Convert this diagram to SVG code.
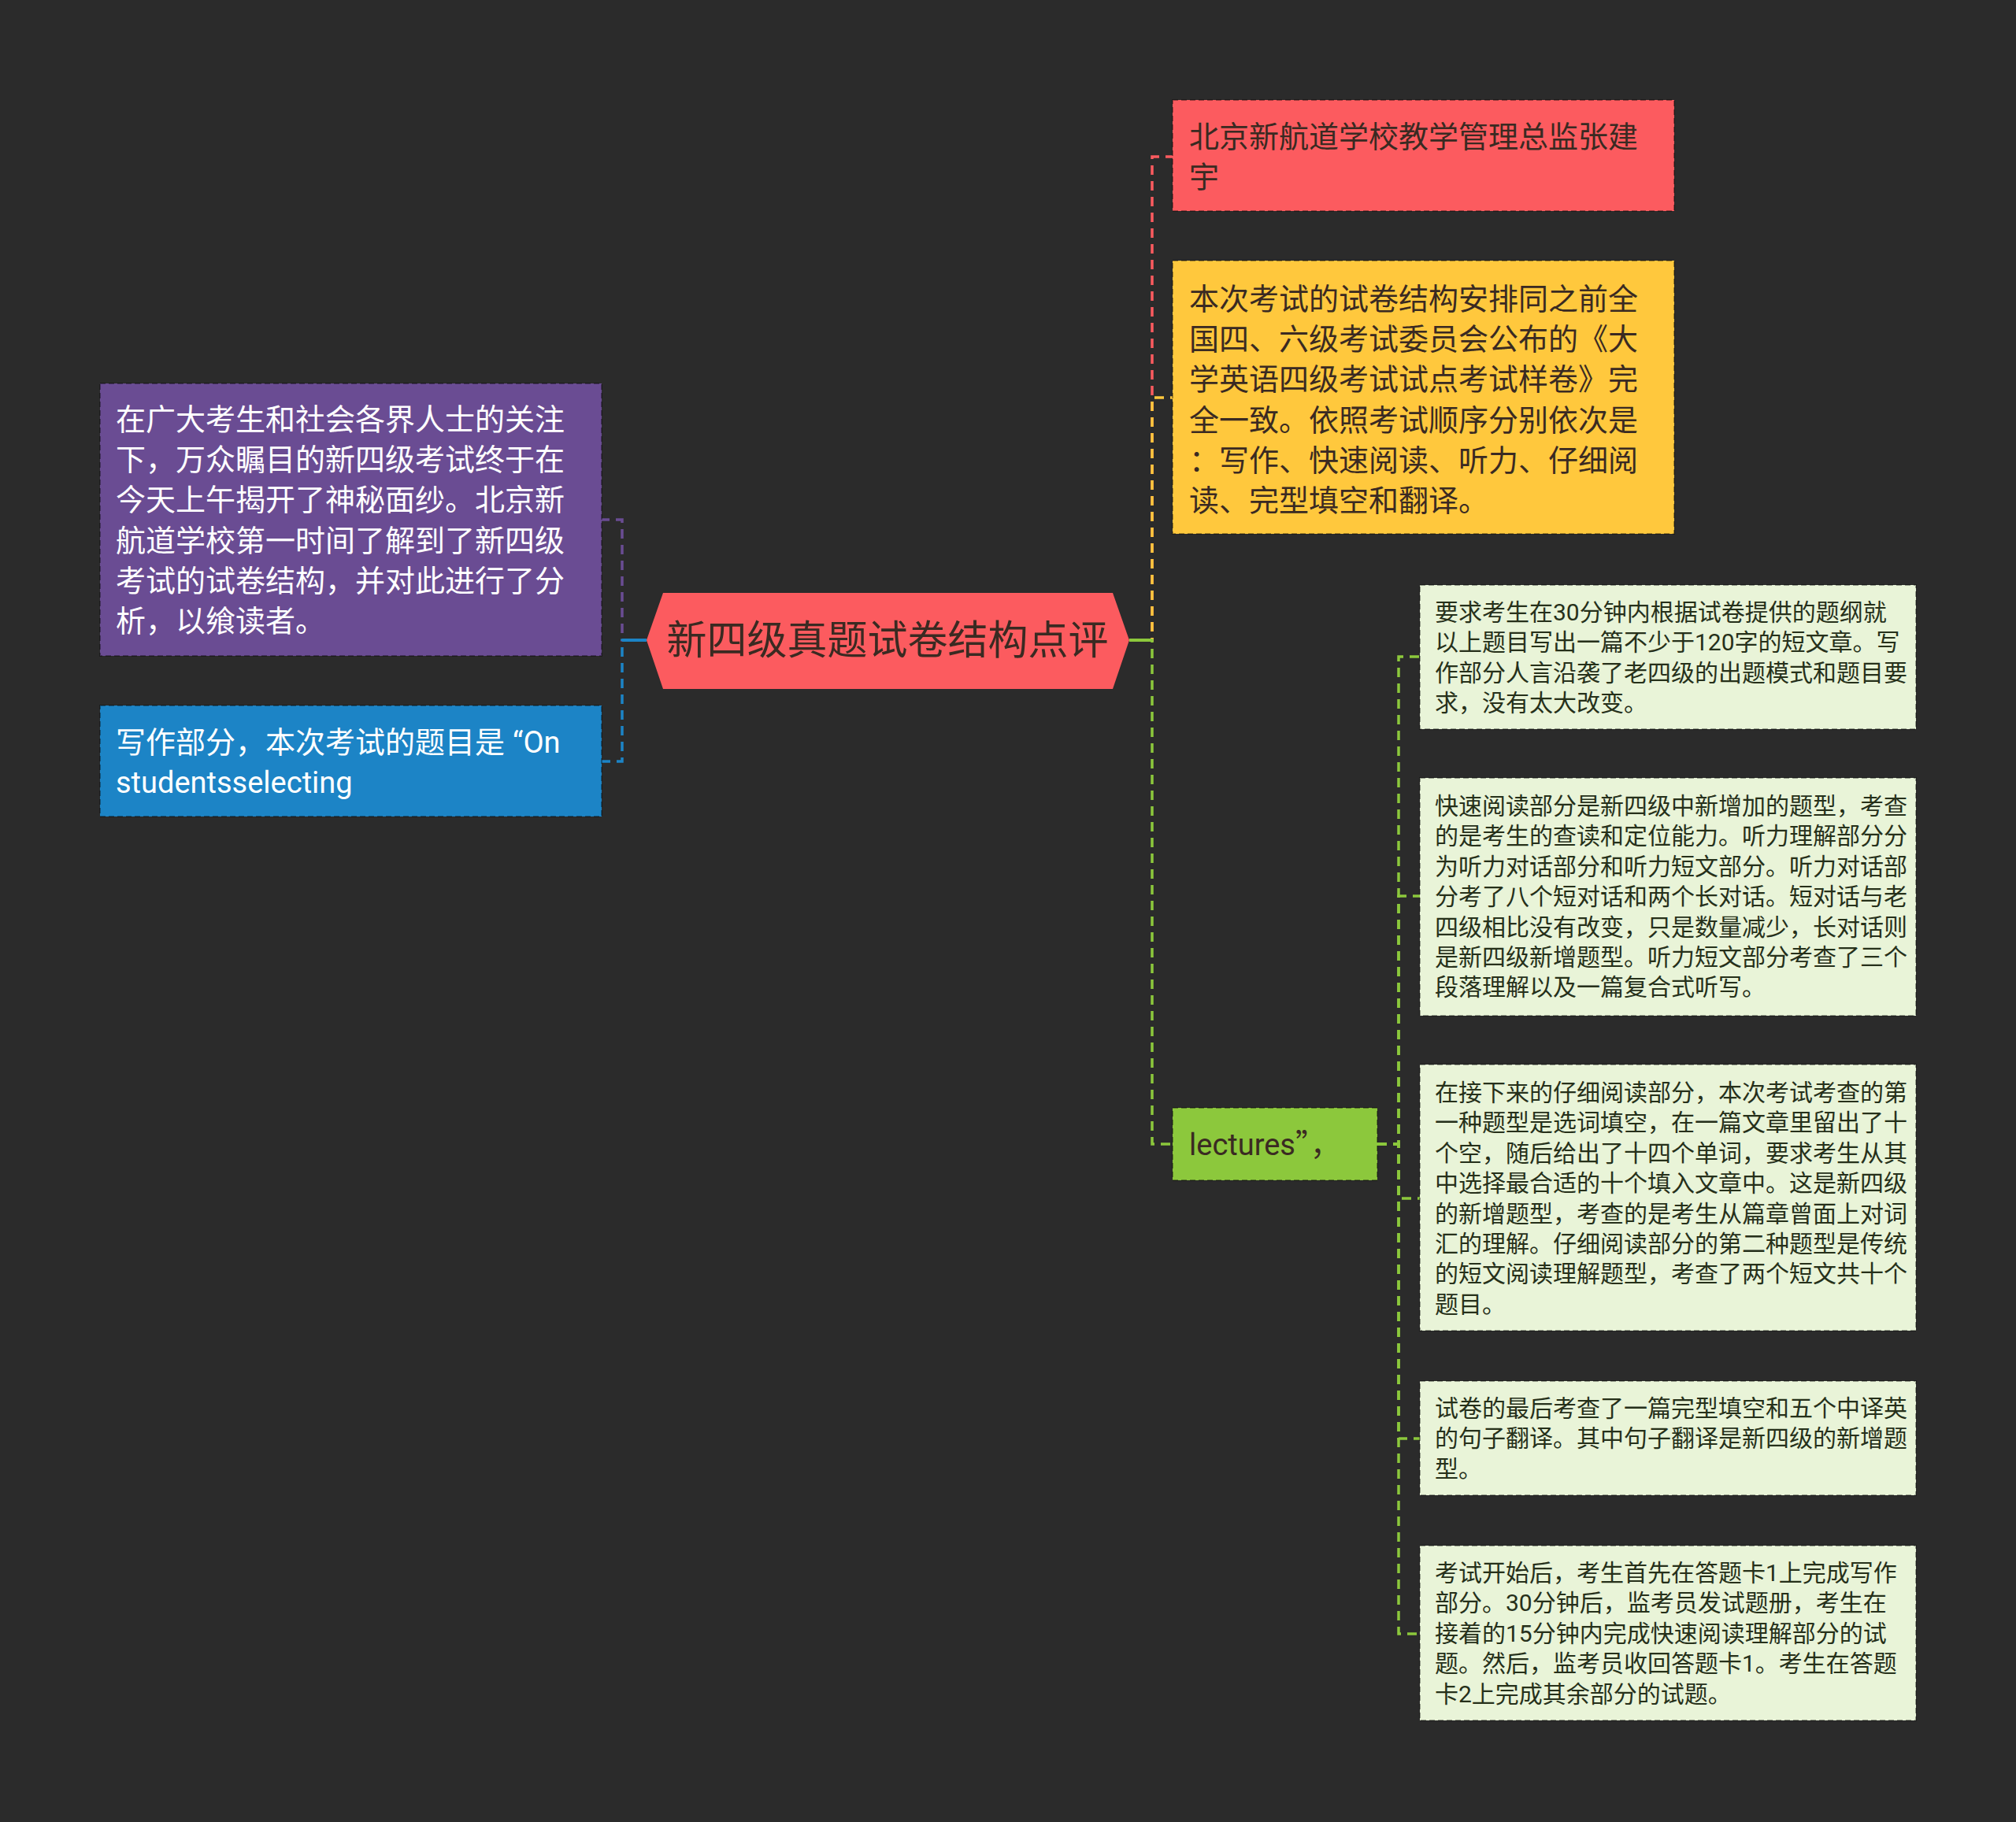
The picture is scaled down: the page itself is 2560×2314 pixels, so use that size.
<svg xmlns="http://www.w3.org/2000/svg" width="2560" height="2314" viewBox="0 0 2560 2314">
<style>
.t{font-family:Roboto,"Noto Sans CJK SC",sans-serif;}
.cjk{font-family:"Noto Sans CJK SC",sans-serif;}
.big{font-size:38px;}
.sm{font-size:30px;}
.w{fill:#ffffff;}
.d{fill:#3a2a22;}
.dg{fill:#26301a;}
.box{stroke:rgba(0,0,0,0.35);stroke-width:2;stroke-dasharray:7 4;}
.c{fill:none;stroke-width:3.5;stroke-dasharray:12 8;}
.s{fill:none;stroke-width:4;}
</style>
<rect x="0" y="0" width="2560" height="2314" fill="#2b2b2b"/>

<g id="connectors">
  <path class="c" stroke="#6a4c93" d="M821,813 H790 V660 H764"/>
  <path class="c" stroke="#1c84c6" d="M821,813 H790 V967 H764"/>
  <line class="s" stroke="#1c84c6" x1="790" y1="813" x2="821" y2="813"/>
  <path class="c" stroke="#fc5b5f" d="M1434,813 H1463 V199 H1489"/>
  <path class="c" stroke="#ffc83d" d="M1434,813 H1463 V505 H1489"/>
  <path class="c" stroke="#8cc83c" d="M1434,813 H1463 V1453 H1489"/>
  <line class="s" stroke="#8cc83c" x1="1434" y1="813" x2="1463" y2="813"/>
  <path class="c" stroke="#8cc83c" d="M1749,1453 H1776 V834 H1803"/>
  <path class="c" stroke="#8cc83c" d="M1749,1453 H1776 V1138 H1803"/>
  <path class="c" stroke="#8cc83c" d="M1749,1453 H1776 V1522 H1803"/>
  <path class="c" stroke="#8cc83c" d="M1749,1453 H1776 V1827 H1803"/>
  <path class="c" stroke="#8cc83c" d="M1749,1453 H1776 V2075 H1803"/>
</g>

<g id="center">
  <polygon points="821,813 842,753 1413,753 1434,813 1413,875 842,875" fill="#fc5b5f"/>
  <text class="t d" x="1127" y="831" font-size="51" text-anchor="middle">新四级真题试卷结构点评</text>
</g>

<g id="n-intro">
  <rect class="box" x="127" y="487" width="637" height="346" fill="#6a4c93"/>
  <text class="t big w" x="147" y="546">
    <tspan x="147">在广大考生和社会各界人士的关注</tspan>
    <tspan x="147" dy="51.2">下，万众瞩目的新四级考试终于在</tspan>
    <tspan x="147" dy="51.2">今天上午揭开了神秘面纱。北京新</tspan>
    <tspan x="147" dy="51.2">航道学校第一时间了解到了新四级</tspan>
    <tspan x="147" dy="51.2">考试的试卷结构，并对此进行了分</tspan>
    <tspan x="147" dy="51.2">析，以飨读者。</tspan>
  </text>
</g>

<g id="n-writing">
  <rect class="box" x="127" y="896" width="637" height="141" fill="#1c84c6"/>
  <text class="t big w" x="147" y="956">
    <tspan x="147">写作部分，本次考试的题目是<tspan dx="10">“</tspan>On</tspan>
    <tspan x="147" dy="51.2">studentsselecting</tspan>
  </text>
</g>

<g id="n-author">
  <rect class="box" x="1489" y="127" width="637" height="141" fill="#fc5b5f"/>
  <text class="t big d" x="1510" y="187">
    <tspan x="1510">北京新航道学校教学管理总监张建</tspan>
    <tspan x="1510" dy="51.2">宇</tspan>
  </text>
</g>

<g id="n-structure">
  <rect class="box" x="1489" y="331" width="637" height="347" fill="#ffc83d"/>
  <text class="t big d" x="1510" y="393">
    <tspan x="1510">本次考试的试卷结构安排同之前全</tspan>
    <tspan x="1510" dy="51.2">国四、六级考试委员会公布的《大</tspan>
    <tspan x="1510" dy="51.2">学英语四级考试试点考试样卷》完</tspan>
    <tspan x="1510" dy="51.2">全一致。依照考试顺序分别依次是</tspan>
    <tspan x="1510" dy="51.2">：写作、快速阅读、听力、仔细阅</tspan>
    <tspan x="1510" dy="51.2">读、完型填空和翻译。</tspan>
  </text>
</g>

<g id="n-lectures">
  <rect class="box" x="1489" y="1407" width="260" height="92" fill="#8cc83c"/>
  <text class="t big d" x="1510" y="1467">lectures<tspan class="cjk">”，</tspan></text>
</g>

<g id="n-d1">
  <rect class="box" x="1803" y="743" width="630" height="183" fill="#e9f4d8"/>
  <text class="t sm dg" x="1822" y="788">
    <tspan x="1822">要求考生在30分钟内根据试卷提供的题纲就</tspan>
    <tspan x="1822" dy="38.4">以上题目写出一篇不少于120字的短文章。写</tspan>
    <tspan x="1822" dy="38.4">作部分人言沿袭了老四级的出题模式和题目要</tspan>
    <tspan x="1822" dy="38.4">求，没有太大改变。</tspan>
  </text>
</g>

<g id="n-d2">
  <rect class="box" x="1803" y="988" width="630" height="302" fill="#e9f4d8"/>
  <text class="t sm dg" x="1822" y="1034">
    <tspan x="1822">快速阅读部分是新四级中新增加的题型，考查</tspan>
    <tspan x="1822" dy="38.4">的是考生的查读和定位能力。听力理解部分分</tspan>
    <tspan x="1822" dy="38.4">为听力对话部分和听力短文部分。听力对话部</tspan>
    <tspan x="1822" dy="38.4">分考了八个短对话和两个长对话。短对话与老</tspan>
    <tspan x="1822" dy="38.4">四级相比没有改变，只是数量减少，长对话则</tspan>
    <tspan x="1822" dy="38.4">是新四级新增题型。听力短文部分考查了三个</tspan>
    <tspan x="1822" dy="38.4">段落理解以及一篇复合式听写。</tspan>
  </text>
</g>

<g id="n-d3">
  <rect class="box" x="1803" y="1352" width="630" height="338" fill="#e9f4d8"/>
  <text class="t sm dg" x="1822" y="1398">
    <tspan x="1822">在接下来的仔细阅读部分，本次考试考查的第</tspan>
    <tspan x="1822" dy="38.4">一种题型是选词填空，在一篇文章里留出了十</tspan>
    <tspan x="1822" dy="38.4">个空，随后给出了十四个单词，要求考生从其</tspan>
    <tspan x="1822" dy="38.4">中选择最合适的十个填入文章中。这是新四级</tspan>
    <tspan x="1822" dy="38.4">的新增题型，考查的是考生从篇章曾面上对词</tspan>
    <tspan x="1822" dy="38.4">汇的理解。仔细阅读部分的第二种题型是传统</tspan>
    <tspan x="1822" dy="38.4">的短文阅读理解题型，考查了两个短文共十个</tspan>
    <tspan x="1822" dy="38.4">题目。</tspan>
  </text>
</g>

<g id="n-d4">
  <rect class="box" x="1803" y="1754" width="630" height="145" fill="#e9f4d8"/>
  <text class="t sm dg" x="1822" y="1799">
    <tspan x="1822">试卷的最后考查了一篇完型填空和五个中译英</tspan>
    <tspan x="1822" dy="38.4">的句子翻译。其中句子翻译是新四级的新增题</tspan>
    <tspan x="1822" dy="38.4">型。</tspan>
  </text>
</g>

<g id="n-d5">
  <rect class="box" x="1803" y="1963" width="630" height="222" fill="#e9f4d8"/>
  <text class="t sm dg" x="1822" y="2008">
    <tspan x="1822">考试开始后，考生首先在答题卡1上完成写作</tspan>
    <tspan x="1822" dy="38.4">部分。30分钟后，监考员发试题册，考生在</tspan>
    <tspan x="1822" dy="38.4">接着的15分钟内完成快速阅读理解部分的试</tspan>
    <tspan x="1822" dy="38.4">题。然后，监考员收回答题卡1。考生在答题</tspan>
    <tspan x="1822" dy="38.4">卡2上完成其余部分的试题。</tspan>
  </text>
</g>
</svg>
